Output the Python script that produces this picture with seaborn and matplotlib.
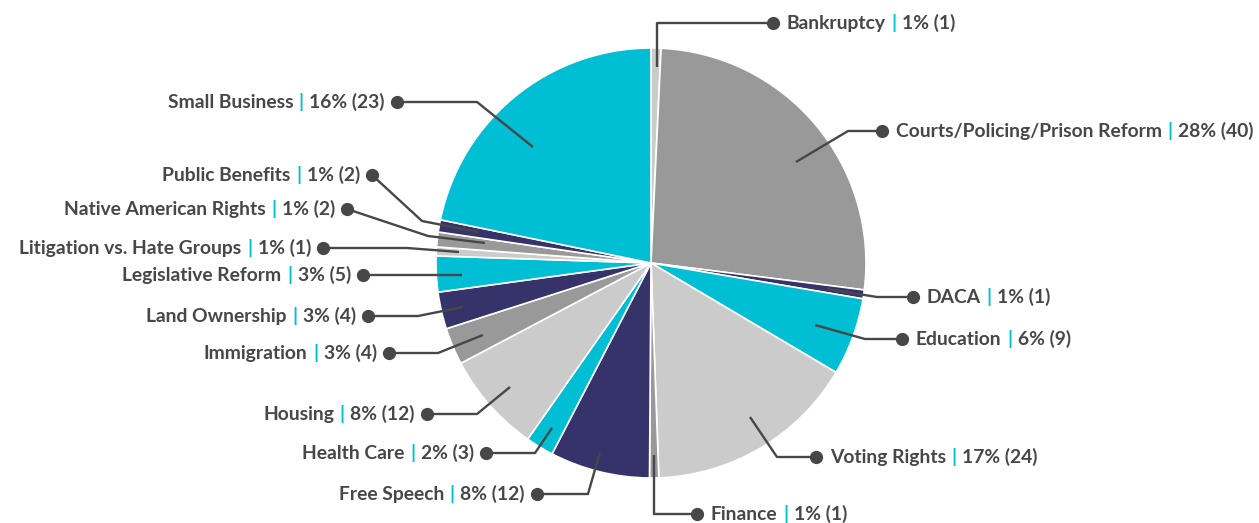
import matplotlib
matplotlib.use("Agg")
import matplotlib.pyplot as plt
import seaborn as sns
from matplotlib.offsetbox import TextArea, HPacker, AnnotationBbox

# ---------------------------------
# DATA
# ---------------------------------

categories = [
    "Bankruptcy", "Courts/Policing/Prison Reform", "DACA", "Education",
    "Voting Rights", "Finance", "Free Speech", "Health Care", "Housing",
    "Immigration", "Land Ownership", "Legislative Reform",
    "Litigation vs. Hate Groups", "Native American Rights",
    "Public Benefits", "Small Business",
]
counts = [1, 40, 1, 9, 24, 1, 12, 3, 12, 4, 4, 5, 1, 2, 2, 23]

# slice sizes as drawn in the original graphic (degrees)
slice_degrees = [2.7, 94.5, 2.4, 21.0, 57.3, 2.5, 27.0, 7.6, 27.2,
                 10.0, 10.0, 9.7, 2.4, 4.0, 3.3, 78.4]

# ---------------------------------
# STYLE / LAYOUT
# ---------------------------------

CYAN = "#00BFD4"
NAVY = "#36336A"
GRAY = "#999999"
LIGHT = "#CBCBCB"
TEXT = "#474747"

slice_colors = [LIGHT, GRAY, NAVY, CYAN, LIGHT, GRAY, NAVY, CYAN,
                LIGHT, GRAY, NAVY, CYAN, LIGHT, GRAY, NAVY, CYAN]

# leader lines in pixel coords: point in slice, elbow, dot
anchors = [(657, 67), (796, 162), (827, 289), (815, 325), (750, 417),
           (654, 455), (600, 452), (552, 428), (510, 387), (483, 335),
           (463, 307), (462, 275), (459, 252), (485, 243), (478, 232),
           (533, 147)]
elbows = [(657, 23), (848, 131), (877, 297), (865, 339), (777, 457),
          (654, 514), (588, 494), (535, 453), (477, 414), (438, 353),
          (418, 316), (420, 275), (407, 248), (428, 236), (422, 221),
          (477, 102)]
dots = [(773, 23), (882, 131), (913, 297), (902, 339), (816, 457),
        (697, 514), (537, 494), (486, 453), (427, 414), (389, 353),
        (368, 316), (363, 275), (323, 248), (347, 209), (372, 175),
        (397, 102)]
sides = ["right"] * 6 + ["left"] * 10

W, H = 1259, 523
CENTER = (651, 263)
RADIUS = 215

sns.set_theme(style="white")
plt.rcParams["font.family"] = ["Lato", "DejaVu Sans"]

fig = plt.figure(figsize=(W / 100, H / 100), dpi=100)
ax = fig.add_axes([0, 0, 1, 1])

ax.pie(
    slice_degrees,
    colors=slice_colors,
    startangle=-90,
    counterclock=True,
    center=CENTER,
    radius=RADIUS,
    frame=True,
    wedgeprops=dict(edgecolor="white", linewidth=1.2),
)

ax.set_xlim(0, W)
ax.set_ylim(H, 0)
ax.set_aspect("auto")
ax.axis("off")

total = sum(counts)

for name, c, a, e, d, side in zip(categories, counts, anchors, elbows, dots, sides):
    ax.plot([a[0], e[0], d[0]], [a[1], e[1], d[1]], color=TEXT, lw=1.7,
            solid_capstyle="butt", zorder=3)
    ax.plot(d[0], d[1], "o", color=TEXT, ms=8.5, zorder=4)

    pct = round(100 * c / total)
    fp = dict(fontsize=13.9, fontweight="bold")
    parts = [
        TextArea(name, textprops=dict(color=TEXT, **fp)),
        TextArea("|", textprops=dict(color=CYAN, **fp)),
        TextArea(f"{pct}% ({c})", textprops=dict(color=TEXT, **fp)),
    ]
    box = HPacker(children=parts, align="baseline", pad=0, sep=4)
    if side == "right":
        xy = (d[0] + 14, d[1])
        align = (0, 0.5)
    else:
        xy = (d[0] - 12, d[1])
        align = (1, 0.5)
    ab = AnnotationBbox(box, xy, box_alignment=align, frameon=False,
                        pad=0, xycoords="data")
    ax.add_artist(ab)

plt.savefig("out.png", dpi=100)
